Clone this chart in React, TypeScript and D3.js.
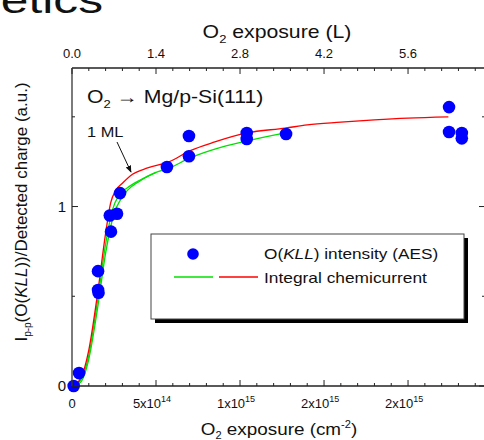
import React from "react";
import * as d3 from "d3";

// exposure in units of 1e14 cm^-2
const dotX = [0.1, 0.42, 1.55, 1.55, 1.58, 2.32, 2.25, 2.68, 2.86, 5.65, 6.96, 6.96, 10.4, 10.4, 12.74, 22.44, 22.44, 23.2, 23.2];
const dotY = [0.0, 0.072, 0.64, 0.535, 0.52, 0.86, 0.95, 0.96, 1.075, 1.22, 1.393, 1.28, 1.41, 1.376, 1.404, 1.554, 1.415, 1.41, 1.38];

const redX = [0, 0.5, 1.0, 1.5, 2.0, 2.3, 2.6, 3.0, 3.6, 4.5, 5.8, 7.0, 8.5, 10.4, 12.7, 14, 16, 18, 20, 22.4];
const redY = [0, 0.04, 0.2, 0.5, 0.85, 1.02, 1.09, 1.13, 1.18, 1.215, 1.25, 1.31, 1.36, 1.41, 1.437, 1.455, 1.47, 1.483, 1.493, 1.5];

const greenAX = [0, 0.5, 1.0, 1.5, 2.0, 2.4, 2.8, 3.3, 4.0, 5.0, 5.8, 7.0, 8.5, 10.4, 12.7];
const greenAY = [0, 0.03, 0.17, 0.46, 0.79, 0.98, 1.065, 1.105, 1.145, 1.19, 1.215, 1.27, 1.32, 1.365, 1.41];

const greenBX = [0, 0.5, 1.0, 1.5, 2.0, 2.5, 2.9, 3.3, 4.0, 5.0];
const greenBY = [0, 0.02, 0.15, 0.42, 0.74, 0.96, 1.04, 1.09, 1.14, 1.19];

const bottomTicks = [0, 5, 10, 15, 20];
const bottomMant = ["0", "5x10", "1x10", "2x10", "2x10"];
const bottomExp = ["", "14", "15", "15", "15"];
const topTicks = [0, 1.4, 2.8, 4.2, 5.6];
const topLabels = ["0.0", "1.4", "2.8", "4.2", "5.6"];
const yTicks = [0, 1];
const yMinor = [0.5, 1.5];

const FONT = "Arial, 'Liberation Sans', sans-serif";

export default function App() {
  const L = 72, R = 485, T = 68, B = 386;
  const x = d3.scaleLinear().domain([0, 24.58]).range([L, R]);
  const xTop = d3.scaleLinear().domain([0, 24.58 * 0.28]).range([L, R]);
  const y = d3.scaleLinear().domain([0, 1.772]).range([B, T]);
  const line = d3
    .line<[number, number]>()
    .x((d) => x(d[0]))
    .y((d) => y(d[1]))
    .curve(d3.curveMonotoneX);
  const zip = (a: number[], b: number[]) => a.map((v, i) => [v, b[i]] as [number, number]);
  const minorX = d3.range(0, 25, 1).filter((v) => v % 5 !== 0);
  const ax = "#222";

  return (
    <svg width={484} height={440} style={{ position: "absolute", left: 0, top: 0, background: "#fff" }} fontFamily={FONT}>
      <g transform="translate(103,13) scale(1.38,1)">
        <text x={0} y={0} fontSize={36} textAnchor="end" fill="#111">Kinetics</text>
      </g>

      {/* top axis title */}
      <g transform="translate(277,38) scale(1.18,1)">
        <text x={0} y={0} fontSize={18} textAnchor="middle" fill="#111">
          O<tspan fontSize={11} dy={5}>2</tspan><tspan dy={-5}> exposure (L)</tspan>
        </text>
      </g>
      {topTicks.map((t, i) => (
        <text key={"tl" + i} x={xTop(t)} y={58} fontSize={13} textAnchor="middle" fill="#111">{topLabels[i]}</text>
      ))}

      {/* data curves */}
      <path d={line(zip(greenBX, greenBY)) || ""} fill="none" stroke="#00e000" strokeWidth={1.3} />
      <path d={line(zip(greenAX, greenAY)) || ""} fill="none" stroke="#00e000" strokeWidth={1.3} />
      <path d={line(zip(redX, redY)) || ""} fill="none" stroke="#ff0000" strokeWidth={1.3} />

      {dotX.map((v, i) => (
        <circle key={"d" + i} cx={x(v)} cy={y(dotY[i])} r={6.3} fill="#0000ff" />
      ))}

      {/* frame */}
      <line x1={L} x2={R} y1={T} y2={T} stroke={ax} strokeWidth={1.4} />
      <line x1={L} x2={R} y1={B} y2={B} stroke={ax} strokeWidth={1.6} />
      <line x1={L} x2={L} y1={T} y2={B} stroke="#444" strokeWidth={1.4} />
      <line x1={R} x2={R} y1={T} y2={B} stroke={ax} strokeWidth={1.4} />

      {bottomTicks.map((t, i) => (
        <g key={"bt" + i}>
          <line x1={x(t)} x2={x(t)} y1={B} y2={B - 6} stroke={ax} />
          <line x1={x(t)} x2={x(t)} y1={T} y2={T + 6} stroke={ax} />
        </g>
      ))}
      {minorX.map((t, i) => (
        <g key={"mt" + i}>
          <line x1={x(t)} x2={x(t)} y1={B} y2={B - 3} stroke={ax} />
          <line x1={x(t)} x2={x(t)} y1={T} y2={T + 3} stroke={ax} />
        </g>
      ))}
      {yTicks.map((t, i) => (
        <g key={"yt" + i}>
          <line x1={L} x2={L + 6} y1={y(t)} y2={y(t)} stroke={ax} />
          <line x1={R} x2={R - 6} y1={y(t)} y2={y(t)} stroke={ax} />
          <text x={L - 6} y={y(t) + 5} fontSize={15} textAnchor="end" fill="#111">{String(t)}</text>
        </g>
      ))}
      {yMinor.map((t, i) => (
        <g key={"ym" + i}>
          <line x1={L} x2={L + 3} y1={y(t)} y2={y(t)} stroke={ax} />
          <line x1={R} x2={R - 3} y1={y(t)} y2={y(t)} stroke={ax} />
        </g>
      ))}

      {bottomTicks.map((t, i) => (
        <text key={"bl" + i} x={x(t) + (bottomExp[i] ? -4 : 0)} y={408} fontSize={13} textAnchor="middle" fill="#111">
          {bottomMant[i]}
          {bottomExp[i] ? <tspan fontSize={9} dy={-6}>{bottomExp[i]}</tspan> : null}
        </text>
      ))}

      {/* bottom axis title */}
      <g transform="translate(279,435) scale(1.11,1)">
        <text x={0} y={0} fontSize={17} textAnchor="middle" fill="#111">
          O<tspan fontSize={10} dy={4}>2</tspan><tspan dy={-4}> exposure (cm</tspan>
          <tspan fontSize={10} dy={-7}>-2</tspan><tspan dy={7}>)</tspan>
        </text>
      </g>

      {/* y axis title */}
      <text transform="translate(27,212) rotate(-90)" fontSize={17} textAnchor="middle" fill="#111">
        I<tspan fontSize={10} dy={4}>p-p</tspan><tspan dy={-4}>(O(</tspan>
        <tspan fontStyle="italic">KLL</tspan>))/Detected charge (a.u.)
      </text>

      {/* inner label */}
      <g transform="translate(87,103) scale(1.18,1)">
        <text x={0} y={0} fontSize={18} fill="#111">
          O<tspan fontSize={11} dy={5}>2</tspan><tspan dy={-5}> → Mg/p-Si(111)</tspan>
        </text>
      </g>
      <g transform="translate(87,137) scale(1.17,1)">
        <text x={0} y={0} fontSize={14} fill="#111">1 ML</text>
      </g>
      <defs>
        <marker id="ah" viewBox="0 0 10 10" refX={9} refY={5} markerWidth={7} markerHeight={7} orient="auto">
          <path d="M0,1 L10,5 L0,9 Z" fill="#111" />
        </marker>
      </defs>
      <line x1={117} y1={142} x2={131} y2={172} stroke="#111" strokeWidth={1} markerEnd="url(#ah)" />

      {/* legend */}
      <rect x={155} y={238} width={313} height={85} fill="#000" />
      <rect x={151} y={234} width={313} height={85} fill="#fff" stroke="#444" strokeWidth={1} />
      <circle cx={193} cy={254} r={5.8} fill="#0000ff" />
      <g transform="translate(264,259) scale(1.23,1)">
        <text x={0} y={0} fontSize={14} fill="#111">
          O(<tspan fontStyle="italic">KLL</tspan>) intensity (AES)
        </text>
      </g>
      <line x1={174} x2={213} y1={277} y2={277} stroke="#00e000" strokeWidth={1.3} />
      <line x1={219} x2={258} y1={277} y2={277} stroke="#ff0000" strokeWidth={1.3} />
      <g transform="translate(264,283) scale(1.24,1)">
        <text x={0} y={0} fontSize={14} fill="#111">Integral chemicurrent</text>
      </g>
    </svg>
  );
}
